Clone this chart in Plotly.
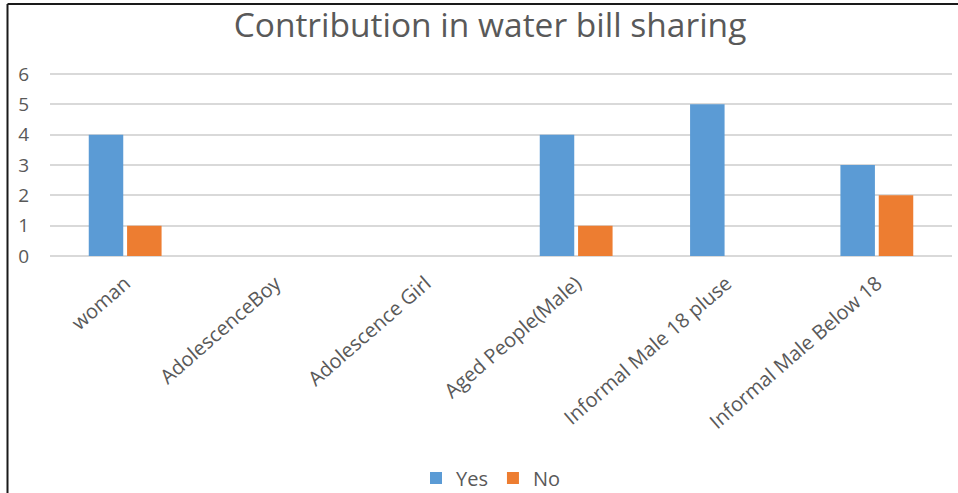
import plotly.graph_objects as go

categories = ["woman", "AdolescenceBoy", "Adolescence Girl", "Aged People(Male)",
              "Informal Male 18 pluse", "Informal Male Below 18"]
yes_values = [4, 0, 0, 4, 5, 3]
no_values = [1, 0, 0, 1, 0, 2]
y_ticks = [0, 1, 2, 3, 4, 5, 6]

TEXT = "#595959"
FONT = "Open Sans"

fig = go.Figure()
fig.add_trace(go.Bar(name="Yes", x=categories, y=yes_values, marker_color="#5B9BD5",
                     marker_line_width=0))
fig.add_trace(go.Bar(name="No", x=categories, y=no_values, marker_color="#ED7D31",
                     marker_line_width=0))

W, H = 958, 493
L, R, T, B = 50, 6, 71, 234
pw = W - L - R
ph = H - T - B

def px_x(px):
    return (px - L) / pw

def px_y(py):
    return (H - B - py) / ph

fig.update_layout(
    width=W, height=H,
    margin=dict(l=L, r=R, t=T, b=B, autoexpand=False),
    paper_bgcolor="white", plot_bgcolor="white",
    barmode="group", bargap=0.49, bargroupgap=0.1,
    font=dict(family=FONT, color=TEXT, size=16),
    title=dict(text="Contribution in water bill sharing", x=490 / W, xref="container",
               xanchor="center", y=1 - 25 / H, yref="container", yanchor="middle",
               font=dict(size=33.5, color=TEXT, family=FONT)),
    legend=dict(orientation="h", x=px_x(491), y=px_y(478), xanchor="center",
                yanchor="middle", font=dict(size=20, color=TEXT), itemwidth=30,
                traceorder="normal"),
    showlegend=True,
)
fig.update_yaxes(range=[-0.1, 6.1], tickvals=y_ticks, showgrid=True, gridcolor="#D9D9D9",
                 gridwidth=2, zeroline=False, showline=False, automargin=False,
                 tickfont=dict(size=19, color=TEXT), ticklabelstandoff=20)
fig.update_xaxes(tickangle=-41, tickfont=dict(size=20, color=TEXT), showline=False,
                 showgrid=False, ticks="", automargin=False, ticklabelstandoff=8)

# outer border (top and left edges)
fig.add_shape(type="line", xref="paper", yref="paper", x0=px_x(7.5), x1=px_x(958),
              y0=px_y(4), y1=px_y(4), line=dict(color="#1a1a1a", width=2))
fig.add_shape(type="line", xref="paper", yref="paper", x0=px_x(7.5), x1=px_x(7.5),
              y0=px_y(4), y1=px_y(493), line=dict(color="#1a1a1a", width=2))

fig.write_html("out.html")
